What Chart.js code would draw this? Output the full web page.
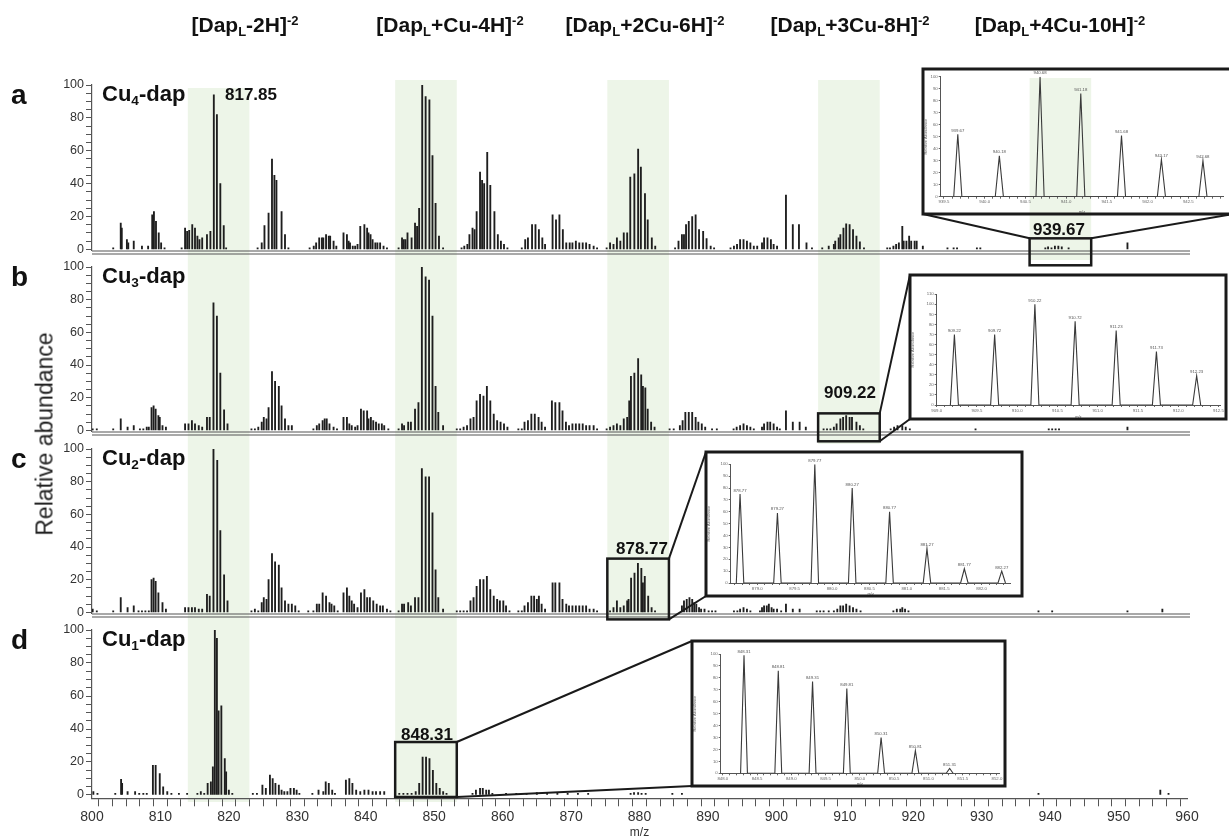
<!DOCTYPE html>
<html>
<head>
<meta charset="utf-8">
<title>Cu-dap spectra</title>
<script src="https://cdn.jsdelivr.net/npm/chart.js@4.4.1/dist/chart.umd.min.js"></script>
<style>
  body { margin: 0; background: #fff; }
  #wrap { position: relative; width: 1229px; height: 839px; overflow: hidden; font-family: "Liberation Sans", Arial, sans-serif; color: #111; }
  #wrap canvas { position: absolute; }
  .lbl { position: absolute; white-space: nowrap; font-weight: bold; line-height: 1; }
  .lbl sub, .lbl sup { font-size: 62%; line-height: 0; position: relative; vertical-align: baseline; }
  .lbl sub { top: 0.3em; }
  .lbl sup { top: -0.55em; }
</style>
</head>
<body>
<div id="wrap"></div>
<script>
// ---------- data ----------
const headerLabels = [
  '[Dap<sub>L</sub>-2H]<sup>-2</sup>',
  '[Dap<sub>L</sub>+Cu-4H]<sup>-2</sup>',
  '[Dap<sub>L</sub>+2Cu-6H]<sup>-2</sup>',
  '[Dap<sub>L</sub>+3Cu-8H]<sup>-2</sup>',
  '[Dap<sub>L</sub>+4Cu-10H]<sup>-2</sup>'
];
const panelLetters = ['a', 'b', 'c', 'd'];
const panelNames = ['Cu<sub>4</sub>-dap', 'Cu<sub>3</sub>-dap', 'Cu<sub>2</sub>-dap', 'Cu<sub>1</sub>-dap'];
const zoomLabels = ['939.67', '909.22', '878.77', '848.31'];
const topPeakLabel = '817.85';

const xLabelValues = [800, 810, 820, 830, 840, 850, 860, 870, 880, 890, 900, 910, 920, 930, 940, 950, 960];
const yTickValues = [0, 5, 10, 15, 20, 25, 30, 35, 40, 45, 50, 55, 60, 65, 70, 75, 80, 85, 90, 95, 100];
const yLabelValues = [0, 20, 40, 60, 80, 100];

// [m/z, relative abundance]
const peaksA = [
  [803.1,1],[804.2,16],[804.35,13],[805.1,6],[805.3,4],[806.1,5],[807.3,2],[808.2,2],
  [808.8,21],[809.05,23],[809.35,17],[809.75,10],[810.1,4],[810.6,1],
  [813.1,1],[813.6,13],[813.9,11],[814.2,11.5],[814.65,15],[815.05,13],[815.4,8],[815.7,6],[816.1,7],[816.8,9],[817.3,11],[817.8,94],[818.25,82],[818.75,40],[819.25,14.5],[819.6,1],
  [824.2,1],[824.8,4],[825.2,14.5],[825.8,22],[826.3,55],[826.65,45],[826.95,42],[827.7,23],[828.2,9],[828.7,1],
  [831.8,1],[832.4,2],[832.75,4],[833.2,7],[833.6,7],[833.8,7],[834.2,9],[834.6,8],[834.8,8],[835.3,5],[835.7,2],
  [836.75,10],[837.25,9],[837.5,5],[837.7,4],[838.1,2],[838.45,2],[838.8,3],[839.2,14],[839.8,15],[840.2,13],[840.4,10],[840.7,9],[841.0,6],[841.4,4],[841.7,4],[842.1,4],[842.6,2],[843.1,1],
  [844.8,1],[845.3,7],[845.55,6],[845.8,6],[846.1,10],[846.7,7],[847.2,16],[847.5,14],[847.8,25],[848.25,100],[848.75,93],[849.3,91],[849.75,57],[850.2,28],[850.7,8],[851.3,1],
  [854.0,1],[854.4,2],[854.85,3],[855.15,9],[855.6,13],[855.9,12],[856.2,23],[856.7,47],[857.0,42],[857.3,40],[857.75,59],[858.2,39],[858.8,23],[859.3,9],[859.75,5],[860.2,3],[860.7,1],
  [862.8,1],[863.3,6],[863.7,7],[864.3,15],[864.8,15],[865.3,12],[865.8,7],[866.2,3],[867.3,21],[867.8,18],[868.3,21],[868.8,12],[869.3,4],[869.8,4],[870.2,4],[870.7,5],[871.2,4],[871.7,4],[872.2,4],[872.7,3],[873.3,2],[873.8,1],
  [875.2,1],[875.7,4],[876.2,3],[876.7,7],[877.2,5],[877.7,10],[878.2,10],[878.65,44],[879.25,46],[879.8,61],[880.2,50],[880.8,34],[881.2,18],[881.8,7],[882.3,2],
  [885.2,1],[885.7,5],[886.2,9],[886.5,9],[886.8,15],[887.2,17],[887.7,20],[888.2,21],[888.7,12],[889.3,11],[889.8,6.5],[890.4,2],[890.9,1],
  [893.3,1],[893.8,2],[894.25,3],[894.7,6],[895.2,6],[895.7,5],[896.2,4],[896.7,2],[897.2,2],[897.9,4],[898.2,7],[898.7,7],[899.2,6],[899.6,3],[900.1,2],
  [901.4,33],[902.4,15],[903.3,15],[904.4,4],[905.2,1],
  [906.7,1],[907.65,2],[908.4,3],[908.6,5],[909.1,7],[909.35,9],[909.8,13],[910.2,15.5],[910.7,15],[911.2,12],[911.7,8],[912.2,4.5],[912.8,1],
  [916.2,1],[916.6,1],[917.1,2],[917.5,3],[917.9,4],[918.4,14],[918.6,5],[919.0,5],[919.4,8],[919.7,5],[920.2,5],[920.5,5],[921.4,2],
  [925.0,1],[925.9,1],[926.4,1],[929.3,1],[929.8,1],[939.3,1],[939.7,1.5],[940.2,1],[940.7,2],[941.2,2],[941.7,1.5],[942.7,1],[951.3,4]
];
const peaksB = [
  [800.1,1],[800.7,1],[803.1,1],[804.2,7],[805.2,2],[806.1,3],[807.0,1],[807.5,1],[808.0,2],[808.3,2],
  [808.7,14],[809.0,15],[809.3,13],[809.7,9],[809.9,8],[810.3,3],[810.8,2],
  [813.6,4],[814.1,4],[814.6,6],[815.05,4],[815.6,3],[816.1,2],[816.8,8],[817.2,8],[817.75,78],[818.25,70],[818.75,35],[819.3,12.5],[819.8,4],
  [823.3,1],[823.8,1],[824.3,2],[824.8,5],[825.1,8],[825.5,7],[825.8,14],[826.3,36],[826.75,30],[827.3,27],[827.7,15],[828.2,7],[828.7,3],[829.2,3],
  [832.35,1],[832.85,3],[833.2,4],[833.7,6],[834.0,7],[834.3,7],[834.7,4],[835.3,2],[835.8,1],[836.75,8],[837.25,8],[837.6,4],[837.95,3],[838.45,2],[838.8,3],
  [839.3,13],[839.7,12],[840.2,12],[840.4,7],[840.75,8],[841.1,6],[841.5,5],[841.9,4],[842.35,4],[842.7,3],[843.3,1],
  [844.8,1],[845.3,4],[845.6,3],[846.2,5],[846.6,5],[847.2,13],[847.7,17],[848.2,100],[848.75,94],[849.25,92],[849.75,70],[850.2,27],[850.6,11],[851.3,3],
  [853.3,1],[853.8,1],[854.3,2],[854.8,3],[855.3,7],[855.75,8],[856.2,18],[856.7,22],[857.2,21],[857.7,27],[858.2,18],[858.7,10],[859.2,6],[859.7,5],[860.2,4],[860.7,2],
  [862.3,1],[862.8,1],[863.2,5],[863.7,6],[864.2,10],[864.7,10],[865.25,8],[865.7,5],[866.2,2],[867.2,18],[867.7,17],[868.3,17],[868.75,12],[869.25,5],[869.7,3],[870.2,4],[870.7,4],[871.2,4],[871.7,4],[872.2,3],[872.7,3],[873.3,3],[873.8,1],
  [875.2,1],[875.7,2],[876.2,3],[876.7,4],[877.2,3],[877.7,7],[878.2,8],[878.5,18],[878.75,33],[879.25,35],[879.8,44],[880.25,34],[880.5,27],[880.85,26],[881.2,13],[881.7,5],[882.2,2],
  [884.4,1],[885.0,1],[885.9,3],[886.3,6],[886.7,11],[887.2,11],[887.7,11],[888.2,8],[888.6,5],[889.1,4],[889.6,2],[890.6,1],[891.3,1],
  [893.75,1],[894.2,2],[894.7,3],[895.2,4],[895.7,3],[896.2,2],[896.7,1],[897.9,2],[898.2,4],[898.7,5],[899.1,5],[899.6,4],[900.1,2],[900.5,1],[901.4,12],[902.4,5],[903.4,5],[904.3,2],
  [906.9,1],[907.4,1],[907.9,1],[908.4,2],[908.8,4],[909.35,7],[909.75,8],[910.2,9],[910.7,8],[911.05,8],[911.7,5],[912.2,3],[912.7,1],
  [916.7,1],[917.2,2],[917.7,3],[918.4,3],[918.9,2],[919.5,1],[929.1,1],[939.8,1],[940.3,1],[940.8,1],[941.3,1],[951.3,2]
];
const peaksC = [
  [800.1,2],[800.7,1],[803.1,1],[804.2,9],[805.2,3],[806.1,4],[806.8,1],[807.3,1],[807.8,1],[808.3,1],
  [808.7,20],[809.0,21],[809.3,19],[809.7,12],[810.3,6],[810.8,2],
  [813.6,3],[814.1,3],[814.6,3],[815.05,3],[815.6,2],[816.1,2],[816.8,11],[817.2,10],[817.75,100],[818.3,93],[818.75,50],[819.3,23],[819.8,7],
  [823.3,1],[823.8,2],[824.3,1],[824.8,6],[825.1,9],[825.5,8],[825.8,20],[826.3,36],[826.75,31],[827.3,29],[827.7,15],[828.2,7],[828.7,5],[829.2,5],[829.7,4],[830.2,1],
  [831.6,1],[832.35,1],[832.85,5],[833.2,5],[833.7,12],[834.2,10],[834.7,6],[835.0,5],[835.4,4],[835.9,1],[836.75,12],[837.25,15],[837.6,10],[837.95,7],[838.3,5],[838.8,3],
  [839.3,12],[839.8,14],[840.2,9],[840.6,9],[841.1,7],[841.6,5],[842.1,4],[842.5,4],[843.1,2],[843.6,1],
  [844.8,1],[845.3,5],[845.6,5],[846.2,6],[846.6,4],[847.2,9],[847.7,9],[848.2,88],[848.75,83],[849.25,83],[849.75,61],[850.2,26],[850.6,9],[851.3,2],
  [853.3,1],[853.8,1],[854.3,1],[854.8,1],[855.3,7],[855.75,9],[856.2,16],[856.7,20],[857.2,20],[857.7,22],[858.2,14],[858.7,10],[859.2,8],[859.6,7],[860.1,7],[860.5,4],[861.0,1],
  [862.3,1],[862.8,1],[863.2,4],[863.7,6],[864.2,10],[864.6,10],[865.0,8],[865.3,10],[865.7,5],[866.2,2],[867.3,18],[867.7,18],[868.3,18],[868.75,8],[869.3,5],[869.7,4],[870.2,4],[870.7,4],[871.2,4],[871.7,4],[872.2,4],[872.7,2],[873.3,2],[873.8,1],
  [875.7,1],[876.2,3],[876.7,7],[877.2,3],[877.7,4],[878.2,7],[878.4,8],[878.77,21],[879.27,24],[879.77,30],[880.27,27],[880.5,18],[880.77,22],[881.27,10],[881.77,3],[882.27,1],
  [886.2,4],[886.5,7],[886.9,8],[887.3,9],[887.7,8],[888.0,6],[888.3,5],[888.7,3],[889.0,2],[889.5,2],[890.1,1],[890.6,1],[891.1,1],
  [893.8,1],[894.3,1],[894.7,2],[895.2,3],[895.7,2],[896.2,1],[897.6,1],[897.9,3],[898.2,4],[898.6,4],[898.9,5],[899.3,3],[899.6,2],[900.1,2],[900.7,1],[901.4,5],[902.4,2],[903.4,2],
  [905.9,1],[906.4,1],[906.9,1],[907.65,1],[908.4,1],[908.9,2],[909.35,4],[909.75,4],[910.2,5],[910.7,4],[911.2,3],[911.7,2],[912.3,1],
  [917.1,1],[917.6,2],[918.1,2],[918.4,3],[918.8,2],[919.3,1],[938.3,1],[940.3,1],[951.3,1],[956.4,2]
];
const peaksD = [
  [800.2,2],[800.8,1],[803.4,1],[804.25,9.5],[804.4,7],[805.2,2],[806.3,2],[806.9,1],[807.5,1],[808.0,1],
  [808.9,18],[809.3,18],[809.9,13],[810.4,5],[811.0,2],[811.6,1],[812.7,1],
  [813.9,1],[815.4,1],[815.9,2],[816.4,1],[816.9,7],[817.37,8],[817.66,17],[817.95,100],[818.25,95],[818.5,51],[818.9,54],[819.4,22],[819.6,14],[820.0,3],[820.5,1],
  [823.5,1],[824.1,1],[824.9,6],[825.4,4],[826.0,12],[826.4,10],[826.8,7],[827.3,6],[827.7,3],[828.1,2],[828.55,2],[829.0,4],[829.5,4],[829.9,3],[830.3,1],
  [832.2,1],[833.1,3],[833.8,2],[834.15,8],[834.6,7],[835.1,3],[835.5,1],[837.1,9],[837.6,10],[838.05,7],[838.6,3],[839.2,2],[839.8,3],[840.4,3],[841.0,2],[841.5,2],[842.1,2],[842.7,2],
  [844.9,1],[845.5,1],[846.1,1],[846.7,1],[847.3,2],[847.81,7],[848.31,23],[848.81,23],[849.31,22],[849.81,15],[850.31,7],[850.81,4],[851.31,2],[851.8,1],
  [855.6,1],[856.1,3],[856.7,4],[857.1,4],[857.6,3],[858.0,3],[858.5,1],
  [860.5,1],[862.0,1],[863.5,1],[865.0,1.5],[866.5,1],[868.0,1.5],[869.5,1],[871.0,1],[872.5,1],
  [878.7,1],[879.2,1.5],[879.8,1.5],[880.3,1],[880.9,1],[884.8,1],[886.2,1],[938.3,1],[956.1,3],[957.3,1]
];

// highlighted isotope windows (m/z start), all 9 wide
const bandStart = [814.0, 844.3, 875.3, 906.1, 937.0];
const bandWidth = 9;

// zoomed isotope patterns
const insetAMz = [939.67, 940.18, 940.68, 941.18, 941.68, 942.17, 942.68];
const insetAInt = [52, 34, 100, 86, 51, 31, 30];
const insetBMz = [909.22, 909.72, 910.22, 910.72, 911.23, 911.73, 912.23];
const insetBInt = [70, 70, 100, 83, 74, 53, 29];
const insetCMz = [878.77, 879.27, 879.77, 880.27, 880.77, 881.27, 881.77, 882.27];
const insetCInt = [75, 59, 100, 80, 60, 29, 12, 10];
const insetDMz = [848.31, 848.81, 849.31, 849.81, 850.31, 850.81, 851.31];
const insetDInt = [99, 86, 77, 71, 30, 19, 4];

// ---------- layout ----------
const W = 1229, H = 839;
const PLOT_L = 92, PLOT_R = 1187;
const FONT = '"Liberation Sans", Arial, sans-serif';
const panelTop = [85, 267, 449, 630];     // pixel of 100 %
const panelZero = [250, 431, 613, 795];   // pixel of 0 %
const panelMin = [-0.7, -0.7, -0.7, -2];
const bandTop = [88, 80, 80, 80, 78];
const bandBottom = [802, 802, 620, 444, 260];
const zoomBand = [4, 3, 2, 1];
const zoomPct = [[6.7, -9.7], [10.4, -6.7], [32.9, -4.3], [32.1, -1.2]];
const insetRect = [[923, 69, 1233, 214], [910, 275, 1226, 419], [706, 452, 1022, 596], [692, 641, 1005, 786]];
const insetPlot = [[940.7, 76.7, 1223.3, 196.7], [936.7, 294.2, 1220, 405], [730.7, 464.3, 1010.7, 583], [720.7, 654, 999, 773.3]];
const insetX = [[939.46, 942.93], [909.0, 912.52], [878.645, 882.39], [847.97, 852.03]];
const insetYMax = [100, 110, 100, 100];
const headerX = [245, 450, 645, 850, 1060];
const zoomLabelPos = [[1059, 228.5], [850, 391.5], [642, 547.5], [427, 734]];

const wrap = document.getElementById('wrap');

function addCanvas(l, t, w, h) {
  const c = document.createElement('canvas');
  c.width = w; c.height = h;
  c.style.left = l + 'px'; c.style.top = t + 'px';
  c.style.width = w + 'px'; c.style.height = h + 'px';
  wrap.appendChild(c);
  return c;
}

function addText(html, x, y, css) {
  const s = document.createElement('div');
  s.className = 'lbl';
  s.innerHTML = html;
  s.style.left = x + 'px';
  s.style.top = y + 'px';
  Object.assign(s.style, css || {});
  wrap.appendChild(s);
  return s;
}

// double base line under panels a-c
const baseLines = {
  id: 'baseLines',
  afterDraw(chart, args, opts) {
    if (!opts.on) return;
    const { ctx, chartArea: a } = chart;
    ctx.save();
    ctx.strokeStyle = '#555';
    ctx.lineWidth = 1.2;
    [0, 3].forEach(d => {
      ctx.beginPath();
      ctx.moveTo(a.left, a.bottom + d + 0.5);
      ctx.lineTo(a.right + 3, a.bottom + d + 0.5);
      ctx.stroke();
    });
    ctx.restore();
  }
};

// m/z labels over inset peaks
const peakLabels = {
  id: 'peakLabels',
  afterDatasetsDraw(chart, args, opts) {
    if (!opts.mz) return;
    const { ctx, scales: { x, y } } = chart;
    ctx.save();
    ctx.font = '4.3px ' + FONT;
    ctx.fillStyle = '#555';
    ctx.textAlign = 'center';
    ctx.textBaseline = 'bottom';
    opts.mz.forEach((m, k) => ctx.fillText(m.toFixed(2), x.getPixelForValue(m), y.getPixelForValue(opts.int[k]) - 1.5));
    ctx.restore();
  }
};

const bgCanvas = addCanvas(0, 0, W, H);

// ---------- main spectra ----------
const mains = [];
[peaksA, peaksB, peaksC, peaksD].forEach((peaks, i) => {
  const last = i === 3;
  const unit = (panelZero[i] - panelTop[i]) / 100;
  const areaH = (100 - panelMin[i]) * unit;
  const padTop = 12, axisH = last ? 42 : 0;
  const ch = Math.ceil(padTop + areaH + axisH + (last ? 0 : 8));
  const padBottom = ch - padTop - areaH - axisH;
  const top = panelTop[i] - padTop;
  const cv = addCanvas(0, top, W, ch);

  const xTicks = [];
  for (let v = 800; v <= 960; v += 2) xTicks.push({ value: v });

  const chart = new Chart(cv, {
    type: 'bar',
    data: {
      datasets: [{
        data: peaks.map(p => ({ x: p[0], y: p[1] })),
        backgroundColor: '#1e1e1e',
        barThickness: 1.2,
        borderWidth: 0
      }]
    },
    options: {
      responsive: false,
      animation: false,
      devicePixelRatio: 1,
      layout: { padding: { left: 0, right: W - PLOT_R, top: padTop, bottom: padBottom } },
      plugins: { legend: { display: false }, tooltip: { enabled: false }, baseLines: { on: !last } },
      scales: {
        x: {
          type: 'linear', min: 800, max: 960, offset: false,
          display: true,
          afterBuildTicks: s => { s.ticks = xTicks; },
          afterFit: s => { s.height = axisH; },
          ticks: {
            display: last,
            autoSkip: false, maxRotation: 0, padding: 2, color: '#333',
            font: { size: 14, family: FONT },
            callback: v => xLabelValues.includes(v) ? String(v) : ''
          },
          grid: { display: last, drawOnChartArea: false, tickLength: 8, color: '#555' },
          border: { display: last, color: '#555', width: 1.2 },
          title: { display: last, text: 'm/z', color: '#333', font: { size: 12, family: FONT }, padding: 0 }
        },
        y: {
          min: panelMin[i], max: 100,
          afterBuildTicks: s => { s.ticks = yTickValues.map(v => ({ value: v })); },
          afterFit: s => { s.width = PLOT_L; },
          ticks: {
            autoSkip: false, padding: 2, color: '#333',
            font: { size: 12.5, family: FONT },
            callback: v => yLabelValues.includes(v) ? String(v) : ''
          },
          grid: { drawOnChartArea: false, tickLength: 6, color: '#555' },
          border: { color: '#555', width: 1.2 }
        }
      }
    },
    plugins: [baseLines]
  });
  mains.push({ chart, top });
});

// ---------- insets ----------
const insetMz = [insetAMz, insetBMz, insetCMz, insetDMz];
const insetInt = [insetAInt, insetBInt, insetCInt, insetDInt];
const isHalf = v => Math.abs(v * 2 - Math.round(v * 2)) < 1e-6;

insetRect.forEach(([L, T, R, B], k) => {
  const [pl, pt, pr, pb] = insetPlot[k];
  const cv = addCanvas(L, T, R - L, B - T);
  const pts = [];
  insetMz[k].forEach((m, j) => {
    pts.push({ x: m - 0.05, y: 0 }, { x: m, y: insetInt[k][j] }, { x: m + 0.05, y: 0 });
  });
  const [x0, x1] = insetX[k];
  const xt = [];
  for (let t = Math.ceil(x0 * 10); t <= Math.floor(x1 * 10); t++) xt.push({ value: t / 10 });
  const yt = [];
  for (let v = 0; v <= insetYMax[k]; v += 10) yt.push({ value: v });

  new Chart(cv, {
    type: 'scatter',
    data: {
      datasets: [{ data: pts, showLine: true, borderColor: '#3a3a3a', borderWidth: 1.1, pointRadius: 0, tension: 0 }]
    },
    options: {
      responsive: false,
      animation: false,
      devicePixelRatio: 1,
      layout: { padding: { left: 0, top: pt - T, right: R - pr, bottom: 0 } },
      plugins: { legend: { display: false }, tooltip: { enabled: false }, peakLabels: { mz: insetMz[k], int: insetInt[k] } },
      scales: {
        x: {
          type: 'linear', min: x0, max: x1, offset: false,
          afterBuildTicks: s => { s.ticks = xt; },
          afterFit: s => { s.height = B - pb; },
          ticks: {
            autoSkip: false, maxRotation: 0, padding: 1, color: '#666',
            font: { size: 4.3, family: FONT },
            callback: v => isHalf(v) ? v.toFixed(1) : ''
          },
          grid: { drawOnChartArea: false, tickLength: 2, color: '#666' },
          border: { color: '#555' },
          title: { display: true, text: 'm/z', color: '#666', font: { size: 4, family: FONT }, padding: 0 }
        },
        y: {
          min: 0, max: insetYMax[k],
          afterBuildTicks: s => { s.ticks = yt; },
          afterFit: s => { s.width = pl - L; },
          ticks: { autoSkip: false, padding: 1, color: '#666', font: { size: 4.3, family: FONT } },
          grid: { drawOnChartArea: false, tickLength: 2, color: '#666' },
          border: { color: '#555' },
          title: { display: true, text: 'Relative Abundance', color: '#666', font: { size: 4, family: FONT }, padding: 0 }
        }
      }
    },
    plugins: [peakLabels]
  });
});

// ---------- highlighted windows (behind everything) ----------
const bctx = bgCanvas.getContext('2d');
const xs = mains[3].chart.scales.x;
bctx.fillStyle = '#edf5e8';
bandStart.forEach((s, k) => {
  const a = xs.getPixelForValue(s), b = xs.getPixelForValue(s + bandWidth);
  bctx.fillRect(a, bandTop[k], b - a, bandBottom[k] - bandTop[k]);
});

// ---------- zoom boxes and connectors ----------
const ov = addCanvas(0, 0, W, H);
const octx = ov.getContext('2d');
octx.strokeStyle = '#1a1a1a';
function seg(ax, ay, bx, by) { octx.beginPath(); octx.moveTo(ax, ay); octx.lineTo(bx, by); octx.stroke(); }

zoomBand.forEach((b, i) => {
  const { chart, top } = mains[i];
  const x0 = chart.scales.x.getPixelForValue(bandStart[b]);
  const x1 = chart.scales.x.getPixelForValue(bandStart[b] + bandWidth);
  const y0 = top + chart.scales.y.getPixelForValue(zoomPct[i][0]);
  const y1 = top + chart.scales.y.getPixelForValue(zoomPct[i][1]);
  const [L, T, R, B] = insetRect[i];
  octx.lineWidth = 2.5;
  octx.strokeRect(x0, y0, x1 - x0, y1 - y0);
  octx.lineWidth = 3;
  octx.strokeRect(L, T, R - L, B - T);
  octx.lineWidth = 2;
  if (i === 0) { seg(x0, y0, L, B); seg(x1, y0, R, B); }
  else { seg(x1, y0, L, T); seg(x1, y1, L, B); }
});

// ---------- text ----------
headerLabels.forEach((h, k) => addText(h, headerX[k], 24, { fontSize: '21px', transform: 'translate(-50%,-50%)' }));
panelLetters.forEach((l, i) => addText(l, 11, panelTop[i] - 4, { fontSize: '28px' }));
panelNames.forEach((n, i) => addText(n, 102, panelTop[i] - 2, { fontSize: '22px' }));
addText(topPeakLabel, 251, 94, { fontSize: '17px', transform: 'translate(-50%,-50%)' });
zoomLabels.forEach((z, k) => addText(z, zoomLabelPos[k][0], zoomLabelPos[k][1], { fontSize: '17px', transform: 'translate(-50%,-50%)' }));
addText('Relative abundance', 45, 434, { fontSize: '23px', fontWeight: 'normal', color: '#222', transform: 'translate(-50%,-50%) rotate(-90deg)' });
</script>
</body>
</html>
